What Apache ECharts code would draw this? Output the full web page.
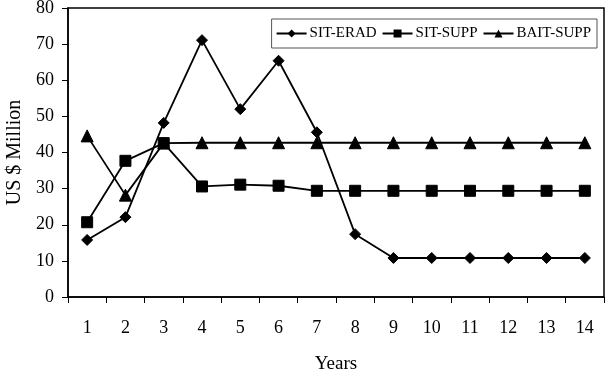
<!DOCTYPE html>
<html><head><meta charset="utf-8">
<script src="https://cdn.jsdelivr.net/npm/echarts@6/dist/echarts.min.js"></script>
<style>html,body{margin:0;padding:0;background:#fff}#c{width:614px;height:380px}</style>
</head><body><div id="c"></div>
<script>
const years = ['1','2','3','4','5','6','7','8','9','10','11','12','13','14'];
const sitErad = [15.8, 22.1, 48.2, 71.1, 52.0, 65.4, 45.6, 17.4, 10.8, 10.8, 10.8, 10.8, 10.8, 10.8];
const sitSupp = [20.7, 37.7, 42.6, 30.6, 31.1, 30.8, 29.4, 29.4, 29.4, 29.4, 29.4, 29.4, 29.4, 29.4];
const baitSupp = [44.6, 28.2, 42.6, 42.7, 42.7, 42.7, 42.7, 42.7, 42.7, 42.7, 42.7, 42.7, 42.7, 42.7];
const yTicks = [0, 10, 20, 30, 40, 50, 60, 70, 80];

const font = 'Liberation Serif';
const chart = echarts.init(document.getElementById('c'));
function ser(name, data, symbol, size) {
  return {
    name, type: 'line', data, symbol, symbolSize: size,
    lineStyle: { color: '#000', width: 1.8 },
    itemStyle: { color: '#000', borderColor: '#000' },
    emphasis: { disabled: true }, animation: false
  };
}
chart.setOption({
  animation: false,
  textStyle: { fontFamily: font, color: '#000' },
  grid: { left: 68, right: 10, top: 8, bottom: 83, containLabel: false, outerBoundsMode: 'none', show: true, borderColor: '#000', borderWidth: 1.5, backgroundColor: 'transparent' },
  legend: {
    right: 17, top: 19, orient: 'horizontal',
    backgroundColor: '#fff', borderColor: '#555', borderWidth: 1,
    padding: [7, 6, 7, 4], itemGap: 5, itemWidth: 30, itemHeight: 10,
    textStyle: { fontFamily: font, fontSize: 15, color: '#000', padding: [0, 0, 0, -2] },
    data: ['SIT-ERAD', 'SIT-SUPP', 'BAIT-SUPP']
  },
  xAxis: {
    type: 'category', data: years, boundaryGap: true,
    name: 'Years', nameLocation: 'middle', nameGap: 58,
    nameTextStyle: { fontFamily: font, fontSize: 19, color: '#000' },
    axisLine: { lineStyle: { color: '#000', width: 1.5 } },
    axisTick: { show: true, length: 6, lineStyle: { color: '#000' } },
    axisLabel: { fontFamily: font, fontSize: 18, color: '#000', margin: 22 }
  },
  yAxis: {
    type: 'value', min: yTicks[0], max: yTicks[yTicks.length - 1], interval: 10,
    name: 'US $ Million', nameLocation: 'middle', nameGap: 41, nameRotate: 90,
    nameTextStyle: { fontFamily: font, fontSize: 20, color: '#000' },
    axisLine: { show: true, lineStyle: { color: '#000', width: 1.5 } },
    axisTick: { show: true, length: 6, lineStyle: { color: '#000' } },
    splitLine: { show: false },
    axisLabel: { fontFamily: font, fontSize: 18, color: '#000', margin: 14 }
  },
  series: [
    ser('SIT-ERAD', sitErad, 'diamond', 11),
    ser('SIT-SUPP', sitSupp, 'rect', 11),
    ser('BAIT-SUPP', baitSupp, 'triangle', 12)
  ]
});
</script></body></html>
